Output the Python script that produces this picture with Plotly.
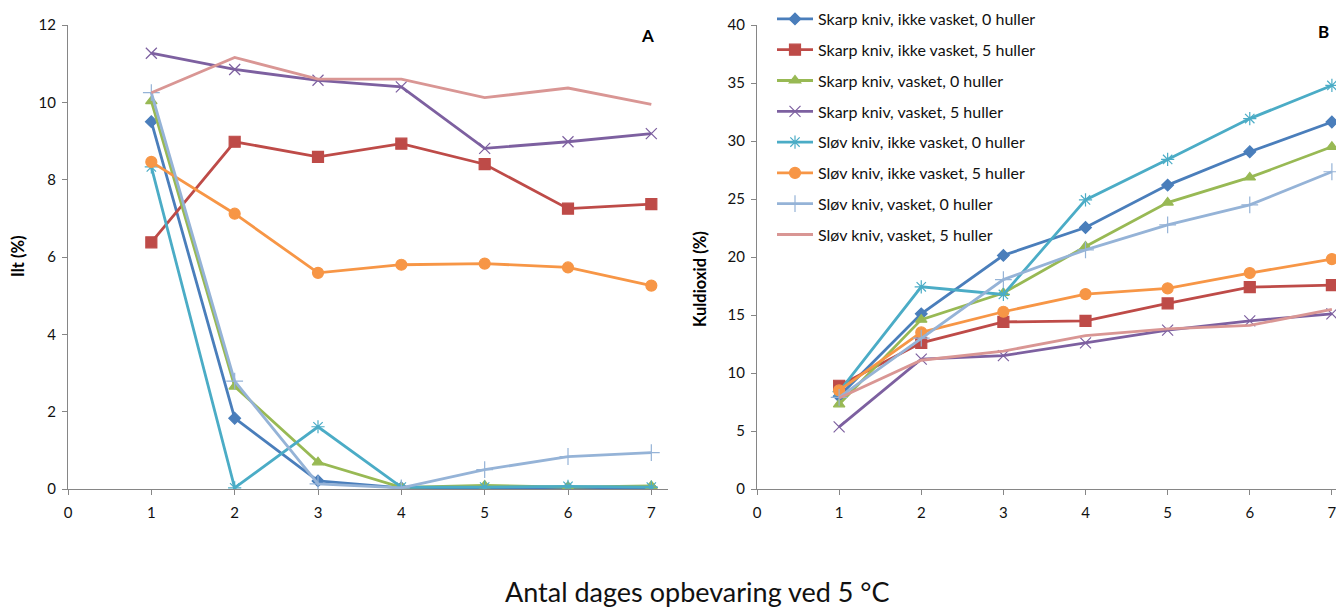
import plotly.graph_objects as go

days = [1, 2, 3, 4, 5, 6, 7]
names = [
    "Skarp kniv, ikke vasket, 0 huller",
    "Skarp kniv, ikke vasket, 5 huller",
    "Skarp kniv, vasket, 0 huller",
    "Skarp kniv, vasket, 5 huller",
    "Sløv kniv, ikke vasket, 0 huller",
    "Sløv kniv, ikke vasket, 5 huller",
    "Sløv kniv, vasket, 0 huller",
    "Sløv kniv, vasket, 5 huller",
]

# Panel A: Ilt (%)
ilt_skarp_ikke_0 = [9.5, 1.83, 0.21, 0.03, 0.03, 0.03, 0.03]
ilt_skarp_ikke_5 = [6.38, 8.98, 8.59, 8.93, 8.40, 7.25, 7.37]
ilt_skarp_vask_0 = [10.03, 2.65, 0.69, 0.04, 0.09, 0.05, 0.08]
ilt_skarp_vask_5 = [11.27, 10.85, 10.57, 10.40, 8.81, 8.98, 9.19]
ilt_slov_ikke_0 = [8.33, 0.03, 1.61, 0.05, 0.05, 0.07, 0.05]
ilt_slov_ikke_5 = [8.46, 7.12, 5.59, 5.80, 5.83, 5.73, 5.26]
ilt_slov_vask_0 = [10.25, 2.79, 0.13, 0.03, 0.50, 0.84, 0.94]
ilt_slov_vask_5 = [10.25, 11.16, 10.60, 10.60, 10.12, 10.37, 9.95]

# Panel B: Kuldioxid (%)
co2_skarp_ikke_0 = [8.0, 15.1, 20.14, 22.54, 26.2, 29.07, 31.64]
co2_skarp_ikke_5 = [8.9, 12.6, 14.4, 14.5, 16.0, 17.4, 17.58]
co2_skarp_vask_0 = [7.3, 14.6, 16.9, 20.9, 24.69, 26.86, 29.5]
co2_skarp_vask_5 = [5.35, 11.2, 11.5, 12.6, 13.7, 14.5, 15.1]
co2_slov_ikke_0 = [8.4, 17.43, 16.77, 24.92, 28.41, 31.93, 34.79]
co2_slov_ikke_5 = [8.5, 13.5, 15.28, 16.8, 17.3, 18.62, 19.82]
co2_slov_vask_0 = [7.9, 13.0, 18.05, 20.62, 22.77, 24.49, 27.35]
co2_slov_vask_5 = [7.85, 11.1, 11.88, 13.23, 13.8, 14.1, 15.48]

ilt = [ilt_skarp_ikke_0, ilt_skarp_ikke_5, ilt_skarp_vask_0, ilt_skarp_vask_5,
       ilt_slov_ikke_0, ilt_slov_ikke_5, ilt_slov_vask_0, ilt_slov_vask_5]
co2 = [co2_skarp_ikke_0, co2_skarp_ikke_5, co2_skarp_vask_0, co2_skarp_vask_5,
       co2_slov_ikke_0, co2_slov_ikke_5, co2_slov_vask_0, co2_slov_vask_5]

colors = ["#4A7EBB", "#BE4B48", "#98B954", "#7D60A0", "#4BACC6", "#F79646", "#95B3D7", "#D99694"]
symbols = ["diamond", "square", "triangle-up", "x-thin-open", "asterisk-open", "circle", "cross-thin-open", "circle"]
sizes = [9, 11, 10, 11, 11, 11, 12, 0]

FONT = "Lato"
W, H = 1336, 608
PT, PB = 25, 119          # plot area top / bottom margins
PH = H - PT - PB          # plot area height (464)

fig = go.Figure()

for i in range(8):
    mk = dict(symbol=symbols[i], size=sizes[i], color=colors[i],
              line=dict(color=colors[i], width=1.2))
    mode = "lines+markers" if sizes[i] > 0 else "lines"
    fig.add_trace(go.Scatter(x=days, y=ilt[i], mode=mode, name=names[i],
                             line=dict(color=colors[i], width=2.8), marker=mk,
                             xaxis="x", yaxis="y", showlegend=False))
for i in range(8):
    mk = dict(symbol=symbols[i], size=sizes[i], color=colors[i],
              line=dict(color=colors[i], width=1.2))
    mode = "lines+markers" if sizes[i] > 0 else "lines"
    fig.add_trace(go.Scatter(x=days, y=co2[i], mode=mode, name=names[i],
                             line=dict(color=colors[i], width=2.8), marker=mk,
                             xaxis="x2", yaxis="y2", legendgroup="g%d" % i))

axis_common = dict(showgrid=False, zeroline=False, showline=True, linecolor="#868686",
                   linewidth=1, ticks="outside", ticklen=5, tickcolor="#868686",
                   tickfont=dict(family=FONT, size=15, color="#111"))


def py(y_px):
    return (H - PB - y_px) / PH


fig.update_layout(
    width=W, height=H,
    paper_bgcolor="white", plot_bgcolor="white",
    margin=dict(l=0, r=0, t=PT, b=PB, autoexpand=False),
    xaxis=dict(domain=[68/W, 668/W], range=[0, 7.2], tickvals=[0, 1, 2, 3, 4, 5, 6, 7],
               anchor="y", ticklabelstandoff=5, **axis_common),
    yaxis=dict(domain=[0, 1], range=[0, 12], tickvals=[0, 2, 4, 6, 8, 10, 12], anchor="x",
               ticklabelstandoff=3, **axis_common),
    xaxis2=dict(domain=[757/W, 1.0], range=[0, 7.05], tickvals=[0, 1, 2, 3, 4, 5, 6, 7],
                anchor="y2", ticklabelstandoff=5, ticklabeloverflow="allow", **axis_common),
    yaxis2=dict(domain=[0, 1], range=[0, 40], tickvals=[0, 5, 10, 15, 20, 25, 30, 35, 40], anchor="x2",
                ticklabelstandoff=3, **axis_common),
    legend=dict(x=772/W, y=py(2), xanchor="left", yanchor="top",
                font=dict(family=FONT, size=16, color="#111"), bgcolor="rgba(0,0,0,0)",
                tracegroupgap=7, itemwidth=36),
)

ann = [
    dict(text="<b>Ilt (%)</b>", x=18/W, y=py(256), textangle=-90, size=16.5, color="#000"),
    dict(text="<b>Kuldioxid (%)</b>", x=700/W, y=py(279), textangle=-90, size=16.5, color="#000"),
    dict(text="<b>A</b>", x=647/W, y=py(35), textangle=0, size=17, color="#000"),
    dict(text="<b>B</b>", x=1323/W, y=py(32), textangle=0, size=17, color="#000"),
    dict(text="Antal dages opbevaring ved 5 °C", x=697/W, y=py(591), textangle=0, size=27, color="#111"),
]
for a in ann:
    fig.add_annotation(text=a["text"], x=a["x"], y=a["y"], xref="paper", yref="paper",
                       xanchor="center", yanchor="middle", showarrow=False, textangle=a["textangle"],
                       font=dict(family=FONT, size=a["size"], color=a["color"]))

fig.write_html("out.html", config={"displayModeBar": False},
               post_script="document.body.style.margin='0';document.body.style.overflow='hidden';")
